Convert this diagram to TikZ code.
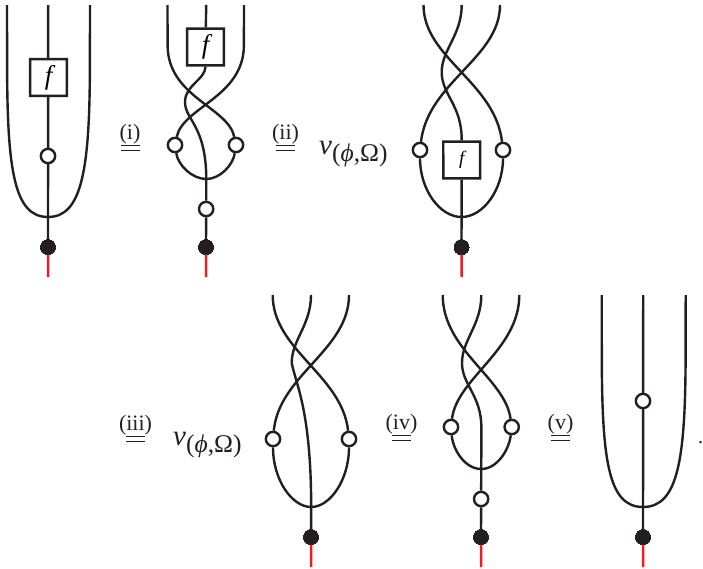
\documentclass[tikz,border=0pt]{standalone}
\usepackage{fontspec}
\setmainfont{Liberation Serif}
\definecolor{ink}{HTML}{231F20}
\definecolor{redl}{HTML}{ED1C24}
\newcommand\eqlab[1]{\vbox{\hbox to 19pt{\hss\fontsize{22}{24}\selectfont #1\hss}\kern0.4pt\hrule width19pt height 1.3pt\kern 3.4pt\hrule width 19pt height 1.3pt}}
\newcommand\nulab{{\fontsize{29}{30}\selectfont\itshape ν}\raisebox{-7pt}{\fontsize{25.5}{26}\selectfont(\textit{ϕ},Ω)}}
\tikzset{
 x=1pt,y=-1pt,
 str/.style={draw=ink,line width=2.4pt},
 redstr/.style={draw=redl,line width=2.4pt},
 openc/.style={circle,draw=ink,fill=white,line width=2.4pt,minimum size=14.3pt,inner sep=0pt},
 blackc/.style={circle,draw=ink,fill=ink,line width=0pt,minimum size=15pt,inner sep=0pt},
 fnode/.style={rectangle,rotate=0.08,draw=ink,fill=white,line width=2.4pt,minimum size=36.8pt,inner sep=0pt,font=\fontsize{27}{28}\selectfont\itshape},
 fnodes/.style={fnode,font=\fontsize{19}{20}\selectfont\itshape},
 lab/.style={inner sep=0pt,text=ink},
 pt/.style={coordinate}
}
\begin{document}
\begin{tikzpicture}
\useasboundingbox (0,0) rectangle (703,568);
% --- diagram 1
\node[pt] (a1) at (7,5) {}; \node[pt] (a2) at (48.2,5) {}; \node[pt] (a3) at (90,5) {};
\node[pt] (aj) at (48,217) {};
\node[pt] (ar) at (48.2,277) {};
\node[blackc] (ab) at (48,247) {};
\draw[redstr] (ab) -- (ar);
\draw[str] (a1) -- (7.1,60) .. controls (7,170) and (14,217) .. (aj);
\draw[str] (a3) -- (89.9,60) .. controls (90,170) and (82,217) .. (aj);
\draw[str] (a2) -- (ab);
\node[openc] (ao) at (48,156) {};
\node[fnode] (af) at (48.5,77.5) {f};
% --- diagram 2
\node[pt] (b1) at (167.5,5) {}; \node[pt] (b2) at (206.2,5) {}; \node[pt] (b3) at (244,5) {};
\node[pt] (bj) at (206.3,179) {};
\node[pt] (br) at (206.2,277) {};
\node[blackc] (bb) at (206,247) {};
\node[openc] (bo) at (206.15,209) {};
\node[openc] (bl) at (175,145) {};
\node[openc] (bR) at (236,145) {};
\node[fnode] (bf) at (205.5,47) {f};
\draw[redstr] (bb) -- (br);
\draw[str] (bj) -- (bo) (bo) -- (bb);
\draw[str] (b2) -- (bf);
\draw[str] (b1) -- (167.6,45) .. controls (167.5,97) and (228,107) .. (bR);
\draw[str] (b3) -- (243.9,45) .. controls (244,97) and (183,107) .. (bl);
\draw[str] (bf.south) .. controls (205,80) and (185,85) .. (185,102) .. controls (185,120) and (206,125) .. (bj);
\draw[str] (bl) .. controls (178,165) and (192,179) .. (bj) .. controls (220,179) and (233,165) .. (bR);
% --- diagram 3
\node[pt] (c1) at (423.5,5) {}; \node[pt] (c2) at (461.7,5) {}; \node[pt] (c3) at (500,5) {};
\node[pt] (cj) at (461.5,217) {};
\node[pt] (cr) at (461.7,277) {};
\node[blackc] (cb) at (461.5,247) {};
\node[openc] (cl) at (420,150) {};
\node[openc] (cR) at (503,150) {};
\node[fnodes] (cf) at (461.7,160) {f};
\draw[redstr] (cb) -- (cr);
\draw[str] (cf) -- (cb);
\draw[str] (c1) .. controls (423.5,58) and (495,82) .. (cR);
\draw[str] (c3) .. controls (500,58) and (428,82) .. (cl);
\draw[str] (c2) .. controls (461.7,35) and (441.7,50) .. (441.7,72) .. controls (441.7,95) and (462,105) .. (cf.north);
\draw[str] (cl) .. controls (420,190) and (440,217) .. (cj) .. controls (483,217) and (503,190) .. (cR);
% --- diagram 4
\node[pt] (d1) at (272.7,295) {}; \node[pt] (d2) at (311,295) {}; \node[pt] (d3) at (349,295) {};
\node[pt] (dj) at (311.2,507) {};
\node[pt] (dr) at (311.2,567) {};
\node[blackc] (db) at (311,537) {};
\node[openc] (dl) at (273,439) {};
\node[openc] (dR) at (349,439) {};
\draw[redstr] (db) -- (dr);
\draw[str] (dj) -- (db);
\draw[str] (d1) .. controls (272.7,350) and (342,375) .. (dR);
\draw[str] (d3) .. controls (349,350) and (279,375) .. (dl);
\draw[str] (d2) .. controls (311,325) and (291.7,340) .. (291.7,363) .. controls (296,385) and (311,410) .. (dj);
\draw[str] (dl) .. controls (273,480) and (292,507) .. (dj) .. controls (330,507) and (349,480) .. (dR);
% --- diagram 5
\node[pt] (e1) at (442.7,295) {}; \node[pt] (e2) at (481.3,295) {}; \node[pt] (e3) at (519.3,295) {};
\node[pt] (ej) at (481.25,469) {};
\node[pt] (er) at (481.2,567) {};
\node[blackc] (eb) at (481,537) {};
\node[openc] (eo) at (481.12,499) {};
\node[openc] (el) at (451,427) {};
\node[openc] (eR) at (511.7,427) {};
\draw[redstr] (eb) -- (er);
\draw[str] (ej) -- (eo) (eo) -- (eb);
\draw[str] (e1) .. controls (442.7,350) and (505,378) .. (eR);
\draw[str] (e3) .. controls (519.3,350) and (457,378) .. (el);
\draw[str] (e2) .. controls (481.3,325) and (462,340) .. (462,363) .. controls (462,385) and (481.4,395) .. (481.4,428) -- (ej);
\draw[str] (el) .. controls (453,450) and (465,469) .. (ej) .. controls (497,469) and (509,450) .. (eR);
% --- diagram 6
\node[pt] (g1) at (601.7,295) {}; \node[pt] (g2) at (643.2,295) {}; \node[pt] (g3) at (685.7,295) {};
\node[pt] (gj) at (643,507) {};
\node[pt] (gr) at (643.2,567) {};
\node[blackc] (gb) at (643,537) {};
\draw[redstr] (gb) -- (gr);
\draw[str] (g1) -- (601.8,350) .. controls (601.7,460) and (608,507) .. (gj);
\draw[str] (g3) -- (685.6,350) .. controls (685.7,460) and (678,507) .. (gj);
\draw[str] (g2) -- (gb);
\node[openc] (go) at (643,401) {};
% --- labels
\node[lab,anchor=south] (l1) at (130,151) {\eqlab{(i)}};
\node[lab,anchor=south] (l2) at (285.5,151) {\eqlab{(ii)}};
\node[lab,anchor=south] (l3) at (135.5,442) {\eqlab{(iii)}};
\node[lab,anchor=south] (l4) at (401.5,441) {\eqlab{(iv)}};
\node[lab,anchor=south] (l5) at (560.5,441) {\eqlab{(v)}};
\node[lab,anchor=base west] (n1) at (319,154) {\nulab};
\node[lab,anchor=base west] (n2) at (173,445) {\nulab};
\node[lab,anchor=base] (dot) at (700.5,443) {\fontsize{20}{22}\selectfont .};
\end{tikzpicture}
\end{document}
